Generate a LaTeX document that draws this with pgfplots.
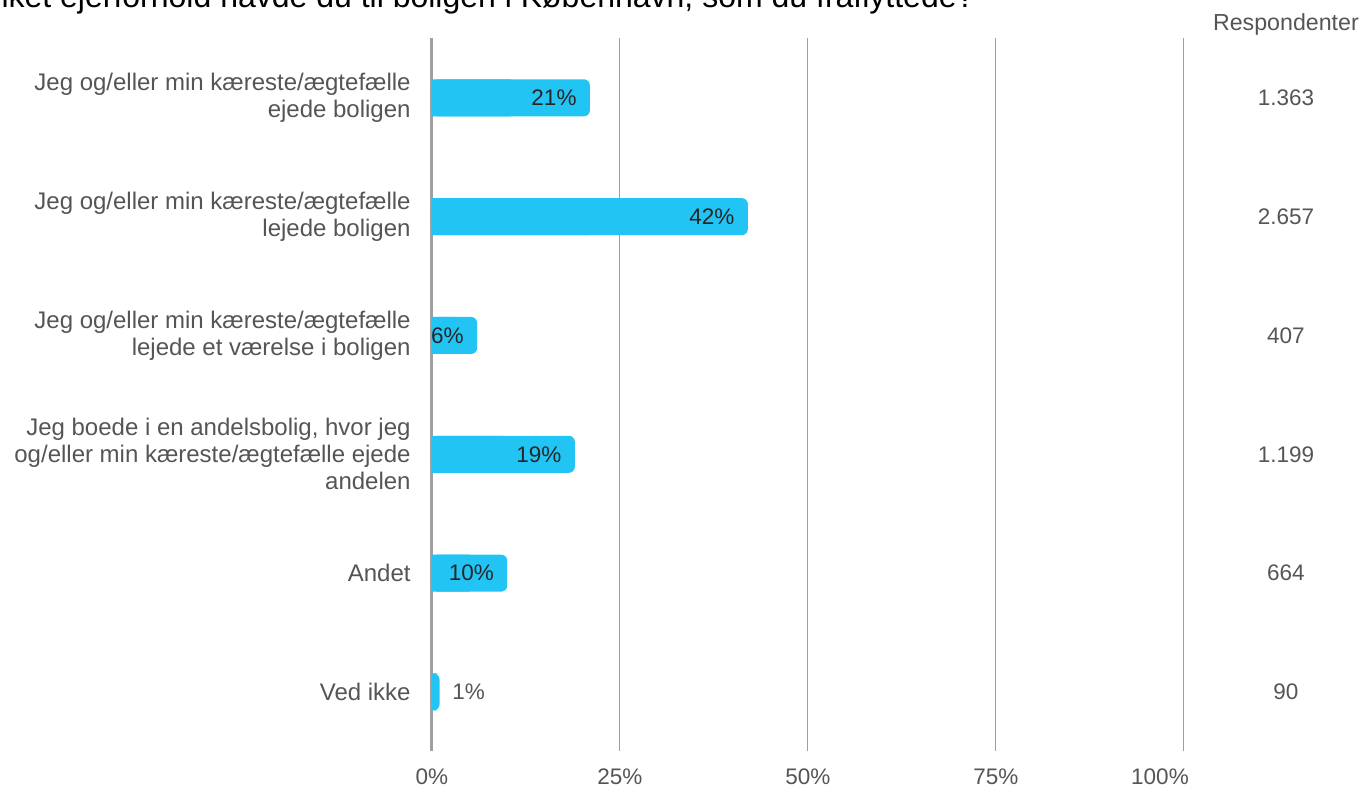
\documentclass[border=0pt]{standalone}
\usepackage{pgfplots}
\pgfplotsset{compat=1.18}
\usepackage{pgfplotstable}
\usepackage{fontspec}
\setmainfont{Liberation Sans}
\definecolor{barblue}{RGB}{34,196,244}
\definecolor{txtgray}{RGB}{85,85,85}
\definecolor{gridgray}{RGB}{160,160,160}
\newcommand\lbl{\fontsize{11.25}{13.5}\selectfont}
\newcommand\cat{\fontsize{12}{13.5}\selectfont}

\pgfplotstableread{
y v lab resp
5 21 21\% 1.363
4 42 42\% 2.657
3 6 6\% 407
2 19 19\% 1.199
1 10 10\% 664
0 1 1\% 90
}\datatable

\begin{document}
\begin{tikzpicture}
\useasboundingbox (-216pt,-17.8pt) rectangle (465pt,375.7pt);
\begin{axis}[
  at={(0,0)}, anchor=south west,
  scale only axis, width=376pt, height=356.5pt,
  xmin=0, xmax=100, ymin=-0.5, ymax=5.5,
  clip=false,
  separate axis lines,
  axis x line*=bottom, axis y line*=left,
  x axis line style={draw=none},
  y axis line style={draw=gridgray, line width=1.5pt},
  major tick length=0pt,
  xtick={0,25,50,75,100},
  xticklabels={0\%,25\%,50\%,75\%,100\%\kern24pt},
  xmajorgrids,
  major grid style={draw=gridgray, line width=0.5pt},
  xticklabel style={font=\lbl, text=txtgray, anchor=base, yshift=-16.8pt, inner sep=0pt},
  ytick={0,1,2,3,4,5},
  yticklabels={
    {Ved ikke},
    {Andet},
    {Jeg boede i en andelsbolig, hvor jeg\\og/eller min kæreste/ægtefælle ejede\\andelen},
    {Jeg og/eller min kæreste/ægtefælle\\lejede et værelse i boligen},
    {Jeg og/eller min kæreste/ægtefælle\\lejede boligen},
    {Jeg og/eller min kæreste/ægtefælle\\ejede boligen}},
  yticklabel style={font=\cat, text=txtgray, align=right, anchor=east, inner sep=0pt, xshift=-10.5pt},
]
% rounded bars
\addplot[xbar, bar shift=0pt, bar width=18.5pt, fill=barblue, draw=none, rounded corners=3pt]
  table[x=v, y=y] {\datatable};
% square left halves
\addplot[xbar, bar shift=0pt, bar width=18.5pt, fill=barblue, draw=none]
  table[x expr=\thisrow{v}/2, y=y] {\datatable};
% labels inside bars
\addplot[draw=none, mark=none, restrict x to domain=2:100,
  nodes near coords, point meta=explicit symbolic,
  nodes near coords style={anchor=east, xshift=-6.5pt, inner sep=0pt, font=\lbl, text=black!85}]
  table[x=v, y=y, meta=lab] {\datatable};
% labels outside bars
\addplot[draw=none, mark=none, restrict x to domain=0:2,
  nodes near coords, point meta=explicit symbolic,
  nodes near coords style={anchor=west, xshift=6.25pt, inner sep=0pt, font=\lbl, text=txtgray}]
  table[x=v, y=y, meta=lab] {\datatable};
% respondents column
\addplot[draw=none, mark=none,
  nodes near coords, point meta=explicit symbolic,
  nodes near coords style={anchor=center, inner sep=0pt, font=\lbl, text=txtgray}]
  table[x expr=113.56, y=y, meta=resp] {\datatable};
\node[font=\fontsize{11.6}{13.5}\selectfont, text=txtgray, inner sep=0pt] at (axis cs:113.56,5.614) {Respondenter};
\end{axis}
\node[anchor=base east, inner sep=0pt, font=\fontsize{16}{19}\selectfont, text=black]
  at (271.5pt,371.7pt) {Hvilket ejerforhold havde du til boligen i København, som du fraflyttede?};
\end{tikzpicture}
\end{document}
